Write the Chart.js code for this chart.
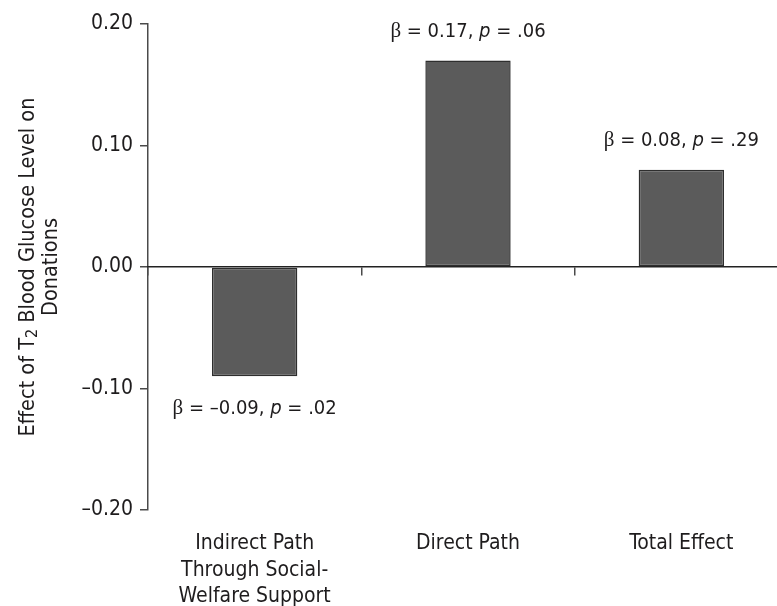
<!DOCTYPE html>
<html>
<head>
<meta charset="utf-8">
<script src="https://cdn.jsdelivr.net/npm/chart.js@4"></script>
<style>
  html, body { margin: 0; padding: 0; background: #fff; overflow: hidden; }
  #wrap { width: 800px; height: 606px; }
</style>
</head>
<body>
<div id="wrap"><canvas id="c"></canvas></div>
<script>
// data
const categories = [
  ["Indirect Path", "Through Social-", "Welfare Support"],
  ["Direct Path"],
  ["Total Effect"],
];
const effects = [-0.09, 0.17, 0.08];
const betaText = ["\u20130.09", "0.17", "0.08"];
const pText = [".02", ".06", ".29"];
const yTicks = [-0.2, -0.1, 0, 0.1, 0.2];

const SANS = "'Liberation Sans Narrow', 'DejaVu Sans Condensed', 'Arial Narrow', sans-serif";
const SERIF = "'Liberation Serif', 'DejaVu Serif', serif";
const INK = "#1e1c1d";

// draw text made of pieces with different fonts, centred on x
function richText(ctx, parts, x, y) {
  let w = 0;
  parts.forEach((p) => { ctx.font = p.font; w += ctx.measureText(p.t).width; });
  let cx = x - w / 2;
  parts.forEach((p) => {
    ctx.font = p.font;
    ctx.fillText(p.t, cx, y + (p.dy || 0));
    cx += ctx.measureText(p.t).width;
  });
}

const labelPlugin = {
  id: "barLabels",
  afterDatasetsDraw(chart) {
    const ctx = chart.ctx;
    const meta = chart.getDatasetMeta(0);
    ctx.save();
    ctx.fillStyle = INK;
    ctx.textBaseline = "middle";
    meta.data.forEach((el, i) => {
      const v = effects[i];
      const y = v >= 0 ? el.y - 29 : el.y + 32;
      richText(ctx, [
        { t: "\u03b2", font: "21px " + SERIF },
        { t: " = " + betaText[i] + ", ", font: "20px " + SANS },
        { t: "p", font: "italic 20px " + SANS },
        { t: " = " + pText[i], font: "20px " + SANS },
      ], el.x, y);
    });
    ctx.restore();
  },
};

const yTitlePlugin = {
  id: "yTitle",
  afterDraw(chart) {
    const ctx = chart.ctx;
    const a = chart.chartArea;
    const cy = (a.top + a.bottom) / 2;
    ctx.save();
    ctx.fillStyle = INK;
    ctx.textBaseline = "middle";
    ctx.translate(28, cy);
    ctx.rotate(-Math.PI / 2);
    const f = "21.5px " + SANS, fs = "16px " + SANS;
    richText(ctx, [
      { t: "Effect of T", font: f },
      { t: "2", font: fs, dy: 5 },
      { t: " Blood Glucose Level on", font: f },
    ], 0, 0);
    ctx.font = f;
    ctx.textAlign = "center";
    ctx.fillText("Donations", 0, 23);
    ctx.restore();
  },
};

new Chart(document.getElementById("c"), {
  type: "bar",
  data: {
    labels: categories,
    datasets: [{
      data: effects,
      backgroundColor: "#5b5b5b",
      borderColor: "#2e2e2e",
      borderWidth: 1.5,
      borderSkipped: false,
      barPercentage: 1,
      categoryPercentage: 0.4,
    }],
  },
  options: {
    responsive: true,
    maintainAspectRatio: false,
    animation: false,
    layout: { padding: { top: 24, right: 12, bottom: 0, left: 0 } },
    plugins: { legend: { display: false }, tooltip: { enabled: false } },
    scales: {
      y: {
        min: -0.2,
        max: 0.2,
        afterBuildTicks: (s) => { s.ticks = yTicks.map((v) => ({ value: v })); },
        afterFit: (s) => { s.width = 148; },
        ticks: {
          color: INK,
          padding: 7,
          font: { family: SANS, size: 21 },
          callback: (v) => (v < 0 ? "\u2013" : "") + Math.abs(v).toFixed(2),
        },
        grid: { drawOnChartArea: false, tickLength: 8, color: "#4a4a4a", lineWidth: 1.5 },
        border: { color: "#4a4a4a", width: 1.5 },
      },
      x: {
        position: { y: 0 },
        ticks: { display: false },
        grid: { drawOnChartArea: false, tickLength: 8, color: "#4a4a4a", lineWidth: 1.5, offset: true },
        border: { color: "#222", width: 1.5 },
      },
      xl: {
        position: "bottom",
        type: "category",
        labels: categories,
        offset: true,
        afterFit: (s) => { s.height = 96; },
        ticks: {
          color: INK,
          padding: 13,
          maxRotation: 0,
          font: { family: SANS, size: 21, lineHeight: 1.24 },
        },
        grid: { display: false },
        border: { display: false },
      },
    },
  },
  plugins: [labelPlugin, yTitlePlugin],
});
</script>
</body>
</html>
